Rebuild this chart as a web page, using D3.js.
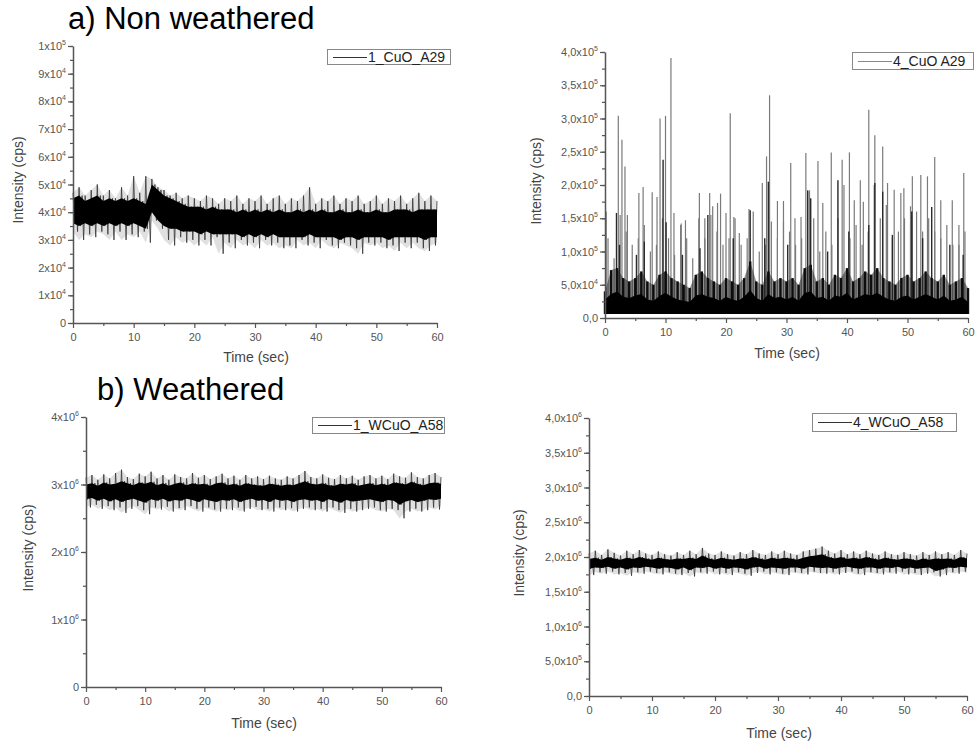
<!DOCTYPE html>
<html>
<head>
<meta charset="utf-8">
<script src="https://cdn.jsdelivr.net/npm/d3@7"></script>
<style>
  body { margin: 0; background: #fff; }
  text { font-family: Arial, "Liberation Sans", sans-serif; }
</style>
</head>
<body>
<div id="chart"></div>
<script>
// time samples (sec), one per second
var secs = [0,1,2,3,4,5,6,7,8,9,10,11,12,13,14,15,16,17,18,19,20,21,22,23,24,25,26,27,28,29,30,
            31,32,33,34,35,36,37,38,39,40,41,42,43,44,45,46,47,48,49,50,51,52,53,54,55,56,57,58,59,60];
var x_ticks = [0, 10, 20, 30, 40, 50, 60];

// a) 1_CuO_A29, in 10^3 cps : outer extremes and dense core
var a_hi = [47,49,46,48,50,46,48,45,49,46,53,47,53,52,49,48,46,47,45,46,45,44,46,45,43,45,44,46,43,45,
            44,46,43,45,46,43,45,44,46,49,43,45,44,46,43,45,44,46,43,44,46,43,45,44,46,43,45,47,44,46,44];
var a_lo = [33,30,32,31,33,32,30,33,30,32,31,33,29,37,34,30,28,31,29,30,28,30,28,31,25,29,27,30,28,29,
            27,30,28,29,27,28,27,30,28,29,27,30,28,27,29,28,27,25,29,28,29,27,28,26,29,27,29,27,26,28,29];
var a_core_hi = [45,46,44,45,46,44,45,44,45,44,45,44,43,50,48,46,45,44,43,42,42,42,41,42,41,41,41,40,41,40,
                 41,40,41,40,41,40,40,41,40,41,40,41,40,40,41,40,40,41,40,40,41,40,40,41,41,41,40,41,41,41,41];
var a_core_lo = [36,35,36,35,36,35,36,35,36,35,36,35,34,40,37,35,34,34,33,33,33,32,33,32,32,32,32,32,31,32,
                 31,32,31,32,31,31,31,31,31,32,31,31,31,31,30,31,31,30,31,31,31,31,30,31,31,31,31,31,30,31,31];
var a_ticks = [0,10,20,30,40,50,60,70,80,90,100];
var a_labels = ['0','1x10^4','2x10^4','3x10^4','4x10^4','5x10^4','6x10^4','7x10^4','8x10^4','9x10^4','1x10^5'];

// 4_CuO A29, in 10^3 cps
var b_floor = 6;
var b_solid = [28,36,40,32,30,34,36,28,26,33,38,32,28,26,24,34,36,32,30,26,32,28,26,32,42,30,26,36,30,32,
               28,32,26,38,40,30,32,26,34,32,38,28,32,36,34,38,32,28,26,32,34,28,32,36,32,28,34,26,28,32,24];
var b_base = [40,72,75,60,55,60,70,55,50,65,70,60,55,50,45,65,70,60,55,50,60,55,50,60,85,55,50,70,55,60,
              55,60,50,75,80,55,60,50,65,60,75,55,60,70,65,75,60,55,50,60,65,55,60,70,60,55,65,50,55,60,45];
var b_mid = [120,90,155,130,110,120,140,100,110,150,120,95,140,120,90,150,120,155,130,110,120,150,110,120,160,100,110,145,120,145,
             130,110,120,190,150,100,130,110,150,200,120,140,110,130,200,150,170,120,130,150,140,160,130,150,130,120,140,110,110,130,90];
var b_spikes = [[0.2,160],[2.2,304],[2.8,268],[3.3,228],[3.7,155],[5.6,188],[6.3,197],[7.8,189],[8.6,182],[9.1,300],
                [10.0,304],[10.9,391],[11.4,158],[12.6,142],[13.3,147],[15.6,188],[16.5,150],[17.3,188],[17.8,168],[18.6,173],
                [19.1,187],[20.0,158],[20.7,308],[21.3,152],[22.2,128],[23.8,164],[26.0,203],[26.7,243],[27.2,335],[28.5,176],
                [29.5,176],[30.7,233],[31.4,150],[32.4,152],[33.2,248],[33.8,192],[35.2,236],[36.0,173],[37.4,249],[39.2,238],
                [40.4,249],[41.2,177],[42.2,207],[42.7,175],[43.6,313],[44.6,275],[45.9,258],[46.7,203],[47.8,193],[48.9,188],
                [49.4,195],[50.5,168],[50.8,213],[52.2,215],[53.3,213],[54.5,242],[55.5,177],[57.4,177],[58.5,140],[59.3,218]];
var b_dark = [[1.9,158],[2.4,110],[5.2,95],[6.5,115],[9.6,238],[10.1,144],[12.8,95],[15.7,105],[17.0,155],[21.2,120],
              [24.0,162],[26.4,120],[27.0,205],[30.2,110],[33.5,192],[34.0,180],[36.8,100],[38.5,207],[40.3,130],[43.6,140],
              [44.6,203],[45.9,190],[47.5,125],[50.7,160],[52.5,120],[54.0,167],[57.0,110],[59.2,95]];
var b_ticks = [0,50,100,150,200,250,300,350,400];
var b_labels = ['0,0','5,0x10^4','1,0x10^5','1,5x10^5','2,0x10^5','2,5x10^5','3,0x10^5','3,5x10^5','4,0x10^5'];

// b) 1_WCuO_A58, in 10^6 cps
var c_hi = [3.10,3.14,3.07,3.15,3.09,3.17,3.22,3.11,3.08,3.16,3.12,3.19,3.09,3.14,3.07,3.15,3.11,3.09,3.17,3.10,
            3.14,3.08,3.12,3.16,3.09,3.13,3.07,3.14,3.09,3.12,3.08,3.13,3.09,3.07,3.12,3.09,3.14,3.20,3.11,3.09,
            3.15,3.10,3.08,3.14,3.09,3.13,3.07,3.12,3.14,3.09,3.13,3.08,3.16,3.12,3.10,3.18,3.11,3.09,3.14,3.17,3.11];
var c_lo = [2.66,2.70,2.64,2.68,2.62,2.66,2.58,2.64,2.68,2.62,2.56,2.66,2.63,2.67,2.60,2.65,2.62,2.68,2.64,2.60,
            2.66,2.63,2.60,2.64,2.62,2.66,2.60,2.64,2.67,2.62,2.64,2.60,2.66,2.62,2.65,2.60,2.64,2.66,2.62,2.64,
            2.60,2.66,2.62,2.58,2.64,2.60,2.62,2.64,2.66,2.62,2.60,2.64,2.62,2.50,2.60,2.64,2.60,2.62,2.66,2.63,2.68];
var c_core_hi = [3.00,3.02,2.98,3.03,3.00,3.01,3.05,3.02,2.99,3.03,3.01,3.04,2.99,3.02,2.98,3.01,3.03,2.99,3.02,3.00,
                 3.01,2.98,3.02,3.03,2.99,3.01,2.98,3.02,3.00,2.99,2.98,3.01,3.00,2.98,3.00,2.99,3.02,3.05,3.01,3.00,
                 3.02,2.99,2.98,3.01,3.00,3.02,2.98,3.00,3.02,2.99,3.01,2.99,3.03,3.02,3.00,3.04,3.01,2.99,3.02,3.03,3.01];
var c_core_lo = [2.78,2.80,2.76,2.79,2.75,2.78,2.74,2.77,2.79,2.76,2.73,2.78,2.76,2.79,2.75,2.77,2.76,2.79,2.77,2.74,
                 2.78,2.76,2.74,2.77,2.76,2.78,2.74,2.77,2.79,2.76,2.77,2.74,2.78,2.76,2.77,2.74,2.77,2.78,2.76,2.77,
                 2.74,2.78,2.76,2.73,2.77,2.75,2.76,2.77,2.78,2.76,2.74,2.77,2.76,2.70,2.75,2.77,2.74,2.76,2.78,2.77,2.79];
var c_ticks = [0,1,2,3,4];
var c_labels = ['0','1x10^6','2x10^6','3x10^6','4x10^6'];

// 4_WCuO_A58, in 10^6 cps
var d_hi = [2.05,2.09,2.03,2.11,2.06,2.02,2.09,2.04,2.10,2.05,2.03,2.08,2.04,2.02,2.07,2.03,2.09,2.04,2.13,2.05,
            2.03,2.08,2.04,2.02,2.07,2.04,2.10,2.05,2.03,2.08,2.04,2.09,2.05,2.03,2.08,2.10,2.12,2.15,2.09,2.05,
            2.10,2.04,2.08,2.04,2.09,2.05,2.03,2.08,2.04,2.03,2.07,2.04,2.02,2.07,2.03,2.08,2.04,2.07,2.03,2.10,2.05];
var d_lo = [1.74,1.78,1.76,1.79,1.75,1.77,1.73,1.78,1.76,1.79,1.77,1.75,1.78,1.76,1.74,1.77,1.72,1.78,1.76,1.79,
            1.75,1.77,1.74,1.78,1.76,1.73,1.77,1.79,1.75,1.78,1.76,1.74,1.78,1.77,1.75,1.79,1.77,1.76,1.78,1.75,
            1.77,1.79,1.76,1.74,1.78,1.77,1.75,1.78,1.76,1.79,1.75,1.77,1.74,1.76,1.78,1.72,1.74,1.78,1.76,1.79,1.77];
var d_core_hi = [1.97,1.99,1.96,2.00,1.98,1.96,1.99,1.97,2.00,1.98,1.96,1.99,1.97,1.96,1.98,1.97,1.99,1.97,2.02,1.98,
                 1.96,1.99,1.97,1.96,1.98,1.97,2.00,1.98,1.96,1.99,1.97,1.99,1.98,1.96,1.99,2.01,2.02,2.04,2.00,1.98,
                 2.00,1.97,1.99,1.97,2.00,1.98,1.96,1.99,1.97,1.96,1.98,1.97,1.95,1.98,1.96,1.98,1.97,1.98,1.96,2.00,1.98];
var d_core_lo = [1.83,1.85,1.84,1.86,1.83,1.85,1.82,1.85,1.84,1.86,1.85,1.83,1.85,1.84,1.82,1.85,1.81,1.85,1.84,1.86,
                 1.83,1.85,1.83,1.85,1.84,1.82,1.85,1.86,1.83,1.85,1.84,1.83,1.85,1.85,1.83,1.86,1.85,1.84,1.85,1.83,
                 1.85,1.86,1.84,1.83,1.85,1.85,1.83,1.85,1.84,1.86,1.83,1.85,1.83,1.84,1.85,1.80,1.82,1.85,1.84,1.86,1.85];
var d_ticks = [0,0.5,1,1.5,2,2.5,3,3.5,4];
var d_labels = ['0,0','5,0x10^5','1,0x10^6','1,5x10^6','2,0x10^6','2,5x10^6','3,0x10^6','3,5x10^6','4,0x10^6'];

var chart_width = 979;
var chart_height = 743;
var axis_color = '#555';

var svg = d3.select('#chart')
  .append('svg')
  .attr('width', chart_width)
  .attr('height', chart_height);

svg.append('rect').attr('width', chart_width).attr('height', chart_height).attr('fill', '#fff');

// soft blur, like the scanned figure
svg.append('defs').append('filter').attr('id', 'soft')
  .attr('x', '-5%').attr('y', '-20%').attr('width', '110%').attr('height', '140%')
  .append('feGaussianBlur').attr('stdDeviation', 0.7);

// panel frames (pixel boxes of plot areas)
var panels = {
  a: { left: 73, right: 437, top: 46, bottom: 323, ymax: 100, ticks: a_ticks, labels: a_labels, minor: 5,
       ytitle: [18, 180], xtitle: [256, 362], legend: { x: 327, y: 49, w: 123, h: 15, text: '1_CuO_A29', stroke: '#333' } },
  b: { left: 605, right: 968, top: 52, bottom: 318, ymax: 400, ticks: b_ticks, labels: b_labels, minor: 25,
       ytitle: [536, 181], xtitle: [787, 358], legend: { x: 852, y: 52, w: 121, h: 17, text: '4_CuO A29', stroke: '#888' } },
  c: { left: 86, right: 441, top: 417, bottom: 687, ymax: 4, ticks: c_ticks, labels: c_labels, minor: 0.5,
       ytitle: [28, 548], xtitle: [264, 728], legend: { x: 312, y: 417, w: 132, h: 16, text: '1_WCuO_A58', stroke: '#333' } },
  d: { left: 589, right: 967, top: 418, bottom: 696, ymax: 4, ticks: d_ticks, labels: d_labels, minor: 0.25,
       ytitle: [519, 553], xtitle: [779, 738], legend: { x: 812, y: 413, w: 144, h: 18, text: '4_WCuO_A58', stroke: '#333' } }
};

function scalesFor(p) {
  p.x = d3.scaleLinear().domain([0, 60]).range([p.left, p.right]);
  p.y = d3.scaleLinear().domain([0, p.ymax]).range([p.bottom, p.top]);
  return p;
}

function drawAxes(p) {
  var g = svg.append('g');
  var minorY = d3.range(0, p.ymax + 1e-9, p.minor);
  g.append('g')
    .attr('transform', 'translate(' + p.left + ',0)')
    .call(d3.axisLeft(p.y).tickValues(minorY).tickSize(3).tickSizeOuter(0).tickFormat(''))
    .call(function(s) { s.select('.domain').remove(); });
  g.append('g')
    .attr('transform', 'translate(0,' + p.bottom + ')')
    .call(d3.axisBottom(p.x).tickValues(d3.range(5, 60, 10)).tickSize(3).tickSizeOuter(0).tickFormat(''))
    .call(function(s) { s.select('.domain').remove(); });
  g.append('g')
    .attr('transform', 'translate(' + p.left + ',0)')
    .call(d3.axisLeft(p.y).tickValues(p.ticks).tickSize(5).tickSizeOuter(0).tickFormat(''));
  var xa = g.append('g')
    .attr('transform', 'translate(0,' + p.bottom + ')')
    .call(d3.axisBottom(p.x).tickValues(x_ticks).tickSize(5).tickSizeOuter(0).tickPadding(5));
  xa.selectAll('text').attr('font-size', 11).attr('fill', axis_color)
    .attr('font-family', 'Arial, "Liberation Sans", sans-serif');
  g.selectAll('line').attr('stroke', axis_color).attr('stroke-width', 1.2);
  g.selectAll('.domain').attr('stroke', axis_color).attr('stroke-width', 1.5);

  p.ticks.forEach(function(v, i) {
    var t = g.append('text')
      .attr('x', p.left - 7)
      .attr('y', p.y(v) + 4)
      .attr('text-anchor', 'end')
      .attr('font-size', 11)
      .attr('fill', axis_color);
    var parts = p.labels[i].split('^');
    t.append('tspan').text(parts[0]);
    if (parts[1]) t.append('tspan').attr('dy', -5).attr('font-size', 7).text(parts[1]);
  });

  g.append('text')
    .attr('transform', 'translate(' + p.ytitle[0] + ',' + p.ytitle[1] + ') rotate(-90)')
    .attr('text-anchor', 'middle')
    .attr('dy', '0.35em')
    .attr('font-size', 14)
    .attr('fill', '#444')
    .text('Intensity (cps)');
  g.append('text')
    .attr('x', p.xtitle[0])
    .attr('y', p.xtitle[1])
    .attr('text-anchor', 'middle')
    .attr('font-size', 14)
    .attr('fill', '#444')
    .text('Time (sec)');
}

function drawLegend(p) {
  var l = p.legend;
  var g = svg.append('g');
  var ly = Math.round(l.y + l.h / 2) + 0.5;
  g.append('rect').attr('x', l.x + 0.5).attr('y', l.y + 0.5).attr('width', l.w).attr('height', l.h)
    .attr('fill', '#fff').attr('stroke', '#888').attr('stroke-width', 1);
  g.append('line').attr('x1', l.x + 6).attr('x2', l.x + 40)
    .attr('y1', ly).attr('y2', ly)
    .attr('stroke', l.stroke).attr('stroke-width', 1);
  g.append('text').attr('x', l.x + 41).attr('y', l.y + l.h / 2 + 5)
    .attr('font-size', 14).attr('fill', '#222').text(l.text);
}

// noisy band: faint haze between outer extremes, trace, black core
function drawBand(p, hi, lo, coreHi, coreLo) {
  var g = svg.append('g').attr('filter', 'url(#soft)');
  var line = d3.line().x(function(d) { return p.x(d[0]); }).y(function(d) { return p.y(d[1]); });
  g.append('path').datum(secs)
    .attr('d', d3.area()
      .x(function(t) { return p.x(t); })
      .y0(function(t, i) { return p.y(lo[i]); })
      .y1(function(t, i) { return p.y(hi[i]); }))
    .attr('fill', '#999').attr('fill-opacity', 0.3);
  var trace = [];
  secs.forEach(function(t, i) {
    trace.push([t, hi[i]]);
    if (t < 60) {
      trace.push([t + 0.25, coreLo[i]]);
      trace.push([t + 0.5, coreHi[i]]);
      trace.push([t + 0.75, lo[i]]);
    }
  });
  g.append('path').datum(trace).attr('d', line)
    .attr('fill', 'none').attr('stroke', '#333').attr('stroke-width', 0.8);
  g.append('path').datum(secs)
    .attr('d', d3.area()
      .x(function(t) { return p.x(t); })
      .y0(function(t, i) { return p.y(coreLo[i]); })
      .y1(function(t, i) { return p.y(coreHi[i]); }))
    .attr('fill', '#050505');
}

// spiky signal: vertical strokes per sample, tall spikes, solid floor
function drawSpiky(p) {
  var g = svg.append('g').attr('filter', 'url(#soft)');
  var vline = function(sel, getT, getV, color, w) {
    sel.attr('x1', function(d, i) { return p.x(getT(d, i)); })
      .attr('x2', function(d, i) { return p.x(getT(d, i)); })
      .attr('y1', p.y(b_floor))
      .attr('y2', function(d, i) { return p.y(getV(d, i)); })
      .attr('stroke', color).attr('stroke-width', w);
  };
  g.selectAll('line.mid').data(secs.slice(0, 60)).enter().append('line')
    .call(vline, function(t) { return t + 0.5; }, function(t, i) { return b_mid[i]; }, '#7a7a7a', 1.2);
  g.selectAll('line.spike').data(b_spikes).enter().append('line')
    .call(vline, function(d) { return d[0]; }, function(d) { return d[1]; }, '#7a7a7a', 1.2);
  g.selectAll('line.dark').data(b_dark).enter().append('line')
    .call(vline, function(d) { return d[0]; }, function(d) { return d[1]; }, '#2a2a2a', 1.4);
  g.append('path').datum(secs)
    .attr('d', d3.area()
      .x(function(t) { return p.x(t); })
      .y0(p.y(b_floor))
      .y1(function(t, i) { return p.y(b_base[i]); }))
    .attr('fill', '#222').attr('fill-opacity', 0.5);
  g.selectAll('line.base').data(secs).enter().append('line')
    .call(vline, function(t) { return t; }, function(t, i) { return b_base[i]; }, '#0a0a0a', 2.4);
  g.append('path').datum(secs)
    .attr('d', d3.area()
      .x(function(t) { return p.x(t); })
      .y0(p.y(b_floor))
      .y1(function(t, i) { return p.y(b_solid[i]); }))
    .attr('fill', '#050505');
}

var pa = scalesFor(panels.a), pb = scalesFor(panels.b), pc = scalesFor(panels.c), pd = scalesFor(panels.d);

drawBand(pa, a_hi, a_lo, a_core_hi, a_core_lo);
drawSpiky(pb);
drawBand(pc, c_hi, c_lo, c_core_hi, c_core_lo);
drawBand(pd, d_hi, d_lo, d_core_hi, d_core_lo);

[pa, pb, pc, pd].forEach(function(p) { drawAxes(p); drawLegend(p); });

// section titles
svg.append('text').attr('x', 68).attr('y', 29).attr('font-size', 31).attr('fill', '#000').text('a) Non weathered');
svg.append('text').attr('x', 97).attr('y', 400).attr('font-size', 31).attr('fill', '#000').text('b) Weathered');
</script>
</body>
</html>
